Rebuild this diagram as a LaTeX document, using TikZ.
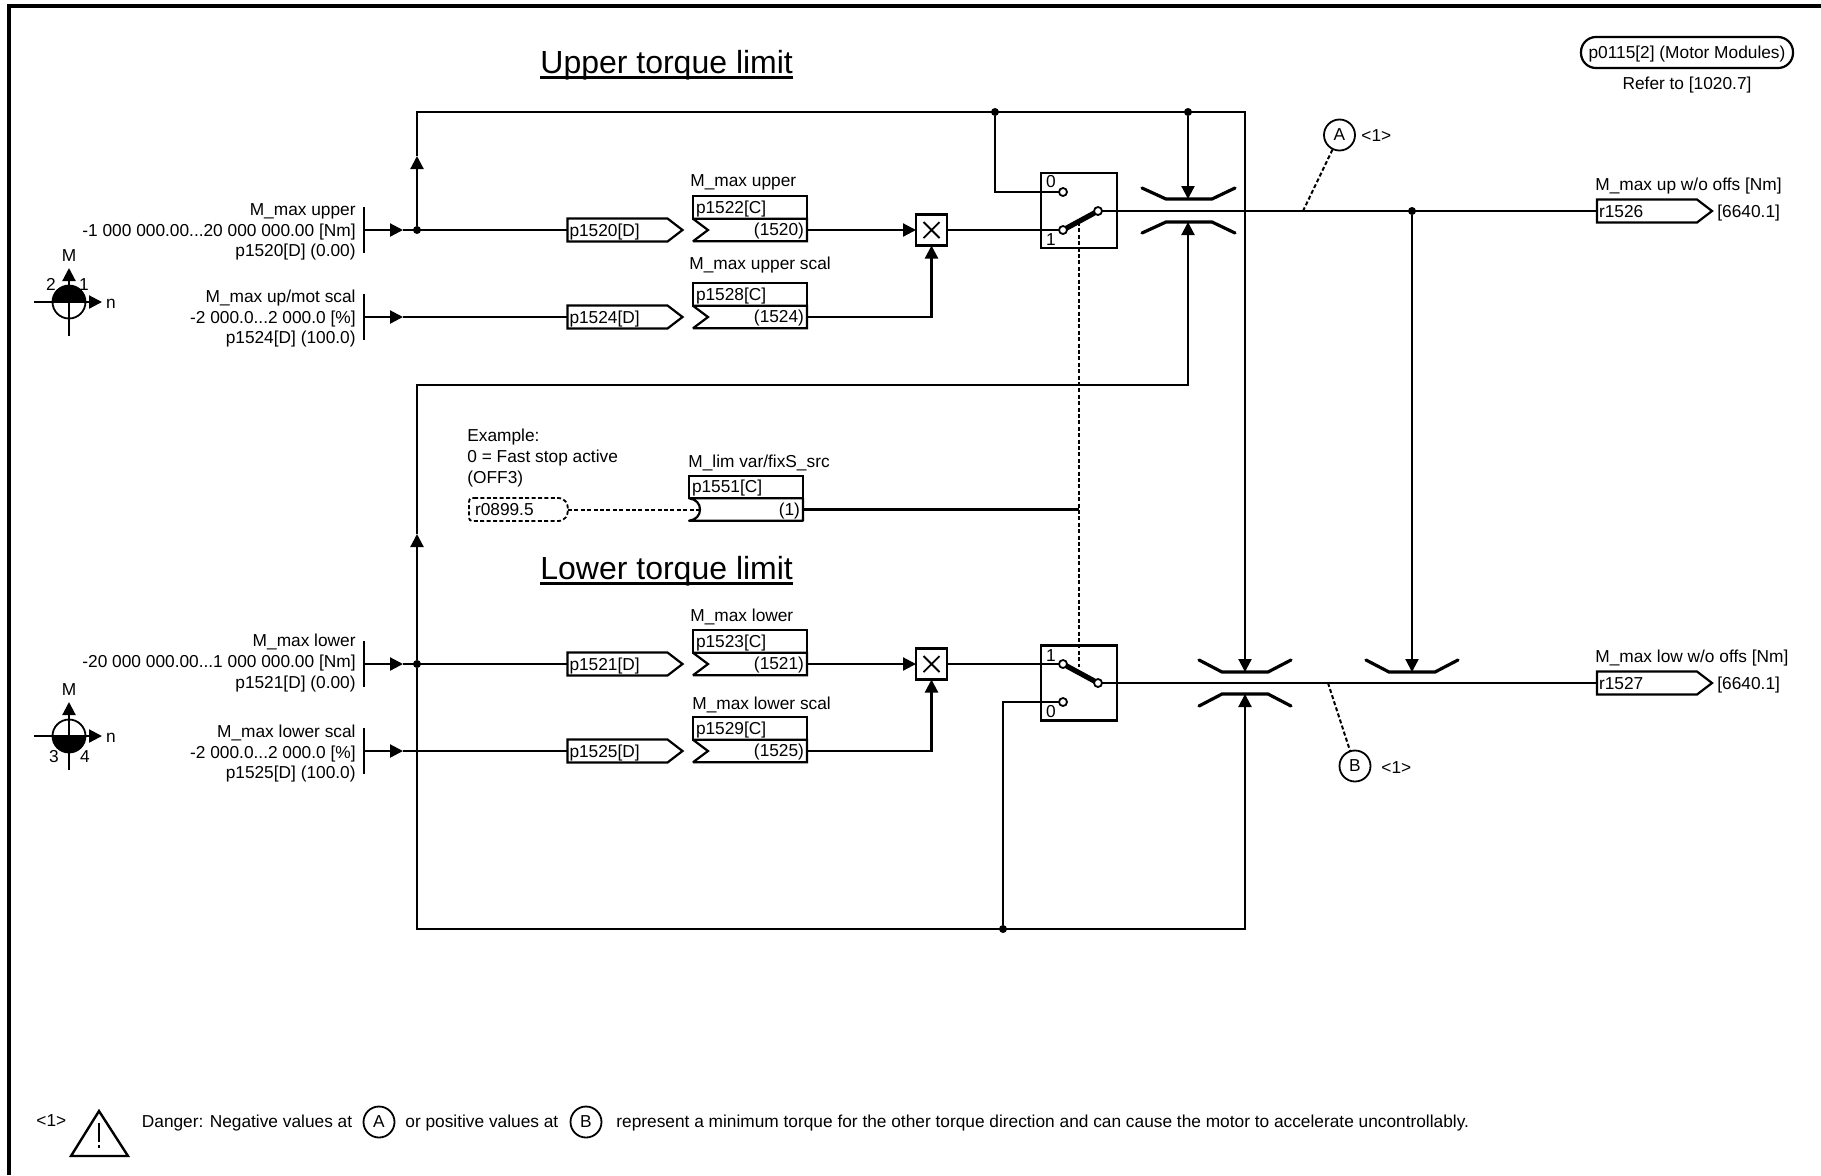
\documentclass[tikz,border=0pt]{standalone}
\usepackage{fontspec}
\setmainfont{Liberation Sans}
\usetikzlibrary{arrows.meta,calc}
\newcommand{\fsmain}{\fontsize{8.65}{10.25}\selectfont}
\newcommand{\fstitle}{\fontsize{16}{18}\selectfont}
\tikzset{
  wire/.style={line width=1.1pt},
  arr/.style={line width=1.1pt,-{Triangle[length=6.5pt,width=6.5pt]}},
  hair/.style={line width=1pt,dash pattern=on 2pt off 1.2pt},
  limiter/.style={line width=1.6pt,line cap=round,line join=miter},
  arm/.style={line width=2.6pt},
  outline/.style={line width=1.1pt,line join=miter,miter limit=3},
  junction/.style={circle,fill=black,inner sep=0pt,minimum size=4pt,outer sep=0pt},
  contact/.style={circle,draw=black,line width=0.9pt,fill=white,inner sep=0pt,minimum size=4pt,outer sep=0pt},
  txt/.style={font=\fsmain,inner sep=0pt,anchor=base west},
  txtc/.style={font=\fsmain,inner sep=0pt,anchor=base},
  txtr/.style={font=\fsmain,inner sep=0pt,anchor=base east,align=right},
  flagbox/.style={font=\fsmain,anchor=west,inner xsep=1pt,inner ysep=0pt,outer sep=0pt,text width=48pt,align=left,text height=8.75pt,text depth=2.75pt},
  partop/.style={font=\fsmain,anchor=north west,draw=black,line width=1.1pt,inner xsep=1.5pt,inner ysep=0pt,outer sep=0pt,text width=54pt,align=left,text height=8.5pt,text depth=2.75pt},
  parval/.style={font=\fsmain,anchor=north west,inner xsep=1.5pt,inner ysep=0pt,outer sep=0pt,text width=54pt,align=right,text height=8.5pt,text depth=2.75pt},
  multbox/.style={draw=black,line width=1.1pt,fill=white,minimum size=15.5pt,inner sep=0pt,outer sep=0pt},
  swbox/.style={draw=black,line width=1.1pt,minimum width=38pt,minimum height=37.5pt,inner sep=0pt,outer sep=0pt},
  refcircle/.style={circle,draw=black,line width=0.9pt,font=\fsmain,inner sep=0pt,minimum size=15.5pt,outer sep=0pt},
  title/.style={font=\fstitle,inner sep=0pt,anchor=base west},
}
% flag: output connector box with a pointed right end
\newcommand{\flagnode}[4]{%
  \node[flagbox] (#1) at (#2,#3) {#4};
  \draw[outline] (#1.north west) -- (#1.north east) -- ($(#1.east)+(15,0)$) -- (#1.south east) -- (#1.south west) -- cycle;
}
% parameter box: name on top, value below with a chevron on the left
\newcommand{\parnode}[5]{%
  \node[partop] (#1t) at (#2,#3) {#4};
  \node[parval] (#1) at (#1t.south west) {#5};
  \draw[outline] (#1.north west) -- (#1.north east) -- (#1.south east) -- (#1.south west) -- ($(#1.west)+(15,0)$) -- cycle;
}
% torque/speed quadrant symbol
\newcommand{\quadrantsym}[4]{%
  \node[circle,draw=black,line width=0.9pt,minimum size=16.5pt,inner sep=0pt,outer sep=0pt] (#1) at (#2,#3) {};
  \fill (#1.west) arc[start angle=180,end angle=#4,radius=8.25pt] -- cycle;
  \coordinate (#1w) at ($(#1)+(-35,0)$);
  \coordinate (#1e) at ($(#1)+(33,0)$);
  \coordinate (#1n) at ($(#1)+(0,-34)$);
  \coordinate (#1s) at ($(#1)+(0,34)$);
  \draw[arr] (#1w) -- (#1e);
  \draw[arr] (#1s) -- (#1n);
}
\begin{document}
\begin{tikzpicture}[x=0.5pt,y=-0.5pt]
\useasboundingbox (0,0) rectangle (1821,1175);
\fill[white] (0,0) rectangle (1821,1175);
% frame
\draw[line width=2pt] (9,1175) -- (9,6) -- (1821,6);

% titles
\node[title] (t1) at (540,73) {Upper torque limit};
\node[title] (t2) at (540,579) {Lower torque limit};
\draw[line width=1.2pt] ($(t1.base west)+(0,4.5)$) -- ($(t1.base east)+(0,4.5)$);
\draw[line width=1.2pt] ($(t2.base west)+(0,4.5)$) -- ($(t2.base east)+(0,4.5)$);

% top-right reference
\node[draw=black,line width=1.1pt,rounded corners=7.5pt,font=\fsmain,minimum width=106pt,minimum height=15.5pt,inner sep=0pt,text height=8.75pt,text depth=2.75pt] (mm) at (1687,52.5) {p0115[2] (Motor Modules)};
\node[txtc] (refer) at (1687,89) {Refer to [1020.7]};

% quadrants
\quadrantsym{q1}{69}{302}{0}
\node[txtc] (q1M) at (69,261) {M};
\node[txtc] (q12) at (51,290) {2};
\node[txtc] (q11) at (84,290) {1};
\node[txtc] (q1n) at (111,308) {n};
\quadrantsym{q2}{69}{736}{360}
\node[txtc] (q2M) at (69,695) {M};
\node[txtc] (q23) at (54,762) {3};
\node[txtc] (q24) at (85,762) {4};
\node[txtc] (q2n) at (111,742) {n};

% input labels
\node[txtr] (l1) at (356,215) {M\_max upper};
\node[txtr] (l1b) at (356,236) {-1 000 000.00...20 000 000.00 [Nm]};
\node[txtr] (l1c) at (356,256.5) {p1520[D] (0.00)};
\node[txtr] (l2) at (356,302) {M\_max up/mot scal};
\node[txtr] (l2b) at (356,323) {-2 000.0...2 000.0 [\%]};
\node[txtr] (l2c) at (356,343.5) {p1524[D] (100.0)};
\node[txtr] (l3) at (356,646.5) {M\_max lower};
\node[txtr] (l3b) at (356,667.5) {-20 000 000.00...1 000 000.00 [Nm]};
\node[txtr] (l3c) at (356,688) {p1521[D] (0.00)};
\node[txtr] (l4) at (356,737) {M\_max lower scal};
\node[txtr] (l4b) at (356,758) {-2 000.0...2 000.0 [\%]};
\node[txtr] (l4c) at (356,778.5) {p1525[D] (100.0)};

% input bars
\coordinate (i1) at (364,230);
\coordinate (i2) at (364,317);
\coordinate (i3) at (364,664);
\coordinate (i4) at (364,751);
\draw[wire] ($(i1)+(0,-23)$) -- ($(i1)+(0,23)$);
\draw[wire] ($(i2)+(0,-23)$) -- ($(i2)+(0,23)$);
\draw[wire] ($(i3)+(0,-23)$) -- ($(i3)+(0,23)$);
\draw[wire] ($(i4)+(0,-23)$) -- ($(i4)+(0,23)$);

% connector flags
\flagnode{f1520}{567.5}{230}{p1520[D]}
\flagnode{f1524}{567.5}{317}{p1524[D]}
\flagnode{f1521}{567.5}{664}{p1521[D]}
\flagnode{f1525}{567.5}{751}{p1525[D]}
\flagnode{r1526}{1597}{211}{r1526}
\flagnode{r1527}{1597}{683}{r1527}
\node[txt] (o1) at (1717,217) {[6640.1]};
\node[txt] (o2) at (1717,689) {[6640.1]};
\node[txt] (o1l) at (1595,190) {M\_max up w/o offs [Nm]};
\node[txt] (o2l) at (1595,662) {M\_max low w/o offs [Nm]};

% parameter boxes
\parnode{p1522}{693}{196.25}{p1522[C]}{(1520)}
\parnode{p1528}{693}{283.25}{p1528[C]}{(1524)}
\parnode{p1523}{693}{630.25}{p1523[C]}{(1521)}
\parnode{p1529}{693}{717.25}{p1529[C]}{(1525)}
\node[txt] (pl1) at (690,186) {M\_max upper};
\node[txt] (pl2) at (689,269) {M\_max upper scal};
\node[txt] (pl3) at (690,621.5) {M\_max lower};
\node[txt] (pl4) at (692,709) {M\_max lower scal};

% multipliers
\node[multbox] (m1) at (931.5,230) {};
\node[multbox] (m2) at (931.5,664) {};
\draw[line width=0.9pt] ($(m1)+(-8,-8)$) -- ($(m1)+(8,8)$) ($(m1)+(-8,8)$) -- ($(m1)+(8,-8)$);
\draw[line width=0.9pt] ($(m2)+(-8,-8)$) -- ($(m2)+(8,8)$) ($(m2)+(-8,8)$) -- ($(m2)+(8,-8)$);

% switches
\node[swbox] (sw1) at (1079,210.5) {};
\node[swbox] (sw2) at (1079,683) {};
\node[txtc] (s10) at (1051,187) {0};
\node[txtc] (s11) at (1051,245) {1};
\node[txtc] (s21) at (1051,661) {1};
\node[txtc] (s20) at (1051,717) {0};
\coordinate (a1) at (1079,222);
\coordinate (a2) at (1079,667);
\coordinate (dj) at (1079,509.5);
\draw[hair] (a1) -- (a2);
\node[contact] (c10) at (1063,192) {};
\node[contact] (c11) at (1063,230) {};
\node[contact] (co1) at (1098,211) {};
\node[contact] (c21) at (1063,664) {};
\node[contact] (c20) at (1063,702) {};
\node[contact] (co2) at (1098,683) {};
\draw[arm] (c11) -- (co1);
\draw[arm] (c21) -- (co2);

% limiters
\coordinate (lim1t) at (1188,199);
\coordinate (lim1b) at (1188,222);
\coordinate (lim2t) at (1245,672);
\coordinate (lim2b) at (1245,694);
\coordinate (lim3t) at (1412,672);
\draw[limiter] (lim1t) ++(-46,-11) -- ++(24,11) -- ++(46,0) -- ++(23,-11);
\draw[limiter] (lim1b) ++(-46,11) -- ++(24,-11) -- ++(46,0) -- ++(23,11);
\draw[limiter] (lim2t) ++(-46,-12) -- ++(23,12) -- ++(46,0) -- ++(23,-12);
\draw[limiter] (lim2b) ++(-46,12) -- ++(23,-12) -- ++(46,0) -- ++(23,12);
\draw[limiter] (lim3t) ++(-46,-12) -- ++(23,12) -- ++(46,0) -- ++(23,-12);

% junctions and corners
\node[junction] (j1) at (417,230) {};
\node[junction] (j3) at (417,664) {};
\node[junction] (d1) at (995,112) {};
\node[junction] (d2) at (1188,112) {};
\node[junction] (d3) at (1003,929) {};
\node[junction] (d4) at (1412,211) {};
\coordinate (k1) at (417,385);
\coordinate (k2) at (417,112);
\coordinate (k3) at (417,929);
\coordinate (up1) at (417,156);
\coordinate (up2) at (417,534);
\coordinate (h1) at (403,230);
\coordinate (h2) at (403,317);
\coordinate (h3) at (403,664);
\coordinate (h4) at (403,751);

% wiring
\draw[arr] (i1) -- (h1);
\draw[arr] (i2) -- (h2);
\draw[arr] (i3) -- (h3);
\draw[arr] (i4) -- (h4);
\draw[wire] (h1) -- (f1520.west);
\draw[wire] (h2) -- (f1524.west);
\draw[wire] (h3) -- (f1521.west);
\draw[wire] (h4) -- (f1525.west);
\draw[arr] (j1) -- (up1);
\draw[arr] (j3) -- (up2);
\draw[wire,line join=miter] (up1) -- (k2) -| (lim2t);
\draw[arr] ($(lim2t)+(0,-14)$) -- (lim2t);
\draw[wire,line join=miter] (up2) -- (k1) -| (lim1b);
\draw[arr] ($(lim1b)+(0,14)$) -- (lim1b);
\draw[wire,line join=miter] (j3) -- (k3) -| (lim2b);
\draw[arr] ($(lim2b)+(0,14)$) -- (lim2b);
\draw[wire,line join=miter] (d1) |- (c10);
\draw[arr] (d2) -- (lim1t);
\draw[wire,line join=miter] (d3) |- (c20);
\draw[arr] (d4) -- (lim3t);
\draw[arr] (p1522.east) -- (m1.west);
\draw[arr] (p1523.east) -- (m2.west);
\draw[arr] (p1529.east) -| (m2.south);
\draw[arr] (p1528.east) -| (m1.south);
\draw[wire] (m1.east) -- (c11);
\draw[wire] (m2.east) -- (c21);
\draw[wire] (co1) -- (r1526.west);
\draw[wire] (co2) -- (r1527.west);

% fast stop example
\node[txt] (ex1) at (467,441) {Example:};
\node[txt] (ex2) at (467,462) {0 = Fast stop active};
\node[txt] (ex3) at (467,483) {(OFF3)};
\node[flagbox,text width=43.5pt,inner xsep=3pt] (r899) at (469,509.5) {r0899.5};
\draw[hair,line width=0.9pt] ($(r899.north west)+(5,0)$) -- ($(r899.north east)+(-10,0)$) .. controls ($(r899.north east)+(-3,0)$) and ($(r899.east)+(0,-6)$) .. (r899.east) .. controls ($(r899.east)+(0,6)$) and ($(r899.south east)+(-3,0)$) .. ($(r899.south east)+(-10,0)$) -- ($(r899.south west)+(5,0)$) .. controls ($(r899.south west)+(1,0)$) and ($(r899.south west)+(0,-1)$) .. ($(r899.south west)+(0,-5)$) -- ($(r899.north west)+(0,5)$) .. controls ($(r899.north west)+(0,1)$) and ($(r899.north west)+(1,0)$) .. ($(r899.north west)+(5,0)$);
\node[txt] (pl5) at (688,467) {M\_lim var/fixS\_src};
\node[partop] (p1551t) at (689,475.75) {p1551[C]};
\node[parval] (p1551) at (p1551t.south west) {(1)};
\coordinate (p1551tip) at ($(p1551.west)+(11,0)$);
\draw[line width=1.1pt,line join=round] (p1551.north west) .. controls ($(p1551.north west)+(7,1)$) and ($(p1551tip)+(0,-6)$) .. (p1551tip) .. controls ($(p1551tip)+(0,6)$) and ($(p1551.south west)+(7,-1)$) .. (p1551.south west) -- (p1551.south east) -- (p1551.north east) -- cycle;
\draw[hair] (r899.east) -- (p1551tip);
\draw[wire] (p1551.east) -- (dj);

% danger reference points
\node[refcircle] (A) at (1339.5,135) {A};
\node[refcircle] (B) at (1355,766) {B};
\node[txt] (A1) at (1361,141) {<1>};
\node[txt] (B1) at (1381,773) {<1>};
\coordinate (la) at (1303,211);
\coordinate (lb) at (1328,683);
\draw[hair] (la) -- (A);
\draw[hair] (lb) -- (B);

% note
\node[txt] (n0) at (36,1126) {<1>};
\coordinate (w1) at (99,1111);
\coordinate (w2) at (71,1156);
\coordinate (w3) at (128,1156);
\draw[line width=1.2pt,line join=miter] (w1) -- (w2) -- (w3) -- cycle;
\draw[line width=1pt] (99,1123) -- (99,1142);
\draw[line width=1pt] (99,1145) -- (99,1148);
\node[txt] (n1) at (141.5,1127.5) {Danger: Negative values at};
\node[refcircle] (nA) at (379,1122) {A};
\node[txt] (n2) at (405,1127.5) {or positive values at};
\node[refcircle] (nB) at (586,1122) {B};
\node[txt] (n3) at (616,1127.5) {represent a minimum torque for the other torque direction and can cause the motor to accelerate uncontrollably.};
\end{tikzpicture}
\end{document}
